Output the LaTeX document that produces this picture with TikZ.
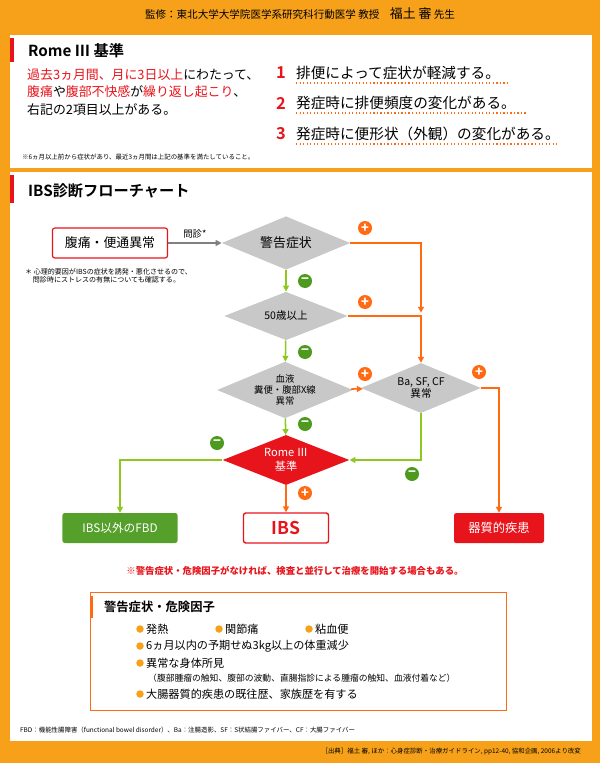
\documentclass[tikz,border=0pt]{standalone}
\usepackage{fontspec}
\setmainfont{Noto Sans CJK JP}
\newfontfamily\jpb{Noto Sans CJK JP}[BoldFont={* Bold}]
\usetikzlibrary{shapes.geometric,arrows.meta,positioning}
\definecolor{bgorange}{HTML}{F7A11A}
\definecolor{ibsred}{HTML}{E8141B}
\definecolor{lineorange}{HTML}{FF6A13}
\definecolor{linegreen}{HTML}{8CC81E}
\definecolor{signgreen}{HTML}{4E9A1E}
\definecolor{fbdgreen}{HTML}{55A02A}
\definecolor{dgray}{HTML}{C8C8C8}
\newcommand{\fs}[1]{\fontsize{#1}{#1}\selectfont}

\begin{document}
\begin{tikzpicture}[
		x=0.03cm, y=-0.03cm,
		decision/.style={diamond, aspect=2.4, fill=dgray, inner sep=0pt, font=\fs{9}, align=center},
		outbox/.style={rectangle, rounded corners=2pt, minimum height=0.9cm, font=\fs{11}},
		plus/.style={circle, fill=lineorange, text=white, inner sep=0pt, minimum size=0.42cm, font=\bfseries\fs{11}},
		minus/.style={circle, fill=signgreen, text=white, inner sep=0pt, minimum size=0.42cm, font=\bfseries\fs{11}},
		oarrow/.style={-{Triangle[length=5pt,width=5pt]}, lineorange, line width=1.3pt},
		garrow/.style={-{Triangle[length=5pt,width=5pt]}, linegreen, line width=1.3pt},
		item/.style={anchor=west, font=\fs{9.5}, inner sep=0pt},
		]
		% background and panels
		\fill[bgorange] (0,0) rectangle (600,763);
		\fill[white] (10,35) rectangle (592,168);
		\fill[white] (10,172) rectangle (592,741);
		\fill[ibsred] (10,38) rectangle (14,62);
		\fill[ibsred] (10,175) rectangle (14,203);
		\node[font=\fs{9}] (head) at (300,14) {監修：東北大学大学院医学系研究科行動医学 教授\quad{\fs{11}福土 審} 先生};
		
		% Rome III criteria
		\node[anchor=west, font=\jpb\bfseries\fs{13}] (rtitle) at (24,51) {Rome Ⅲ 基準};
		\node[anchor=north west, font=\fs{11}, align=left, inner sep=0pt] (rtext) at (27,68)
			{\textcolor{ibsred}{過去3ヵ月間、月に3日以上}にわたって、\\[4pt]
			 \textcolor{ibsred}{腹痛}や\textcolor{ibsred}{腹部不快感}が\textcolor{ibsred}{繰り返し起こり}、\\[4pt]
			 右記の2項目以上がある。};
		\foreach \n/\y/\t/\e in {1/73/排便によって症状が軽減する。/510, 2/103/発症時に排便頻度の変化がある。/527, 3/134/発症時に便形状（外観）の変化がある。/558}{
			\node[anchor=west, text=ibsred, font=\jpb\bfseries\fs{14}] (n\n) at (272,\y) {\n};
			\node[anchor=west, font=\fs{12.5}] (c\n) at (292,\y) {\t};
			\draw[lineorange, dotted, line width=1pt] (296,\y+10) -- (\e,\y+10);
		}
		\node[anchor=west, font=\fs{5.5}] (rnote) at (18,157) {※6ヵ月以上前から症状があり、最近3ヵ月間は上記の基準を満たしていること。};
		
		% flowchart
		\node[anchor=west, font=\jpb\bfseries\fs{13}] (ftitle) at (24,191) {IBS診断フローチャート};
		\node[outbox, draw=ibsred, line width=1pt, minimum width=3.45cm, font=\fs{11}] (start) at (110,243) {腹痛・便通異常};
		\node[anchor=north west, font=\fs{6}, align=left, inner sep=0pt] (snote) at (25,268) {＊ 心理的要因がIBSの症状を誘発・悪化させるので、\\[1pt]\hspace{1.1em}問診時にストレスの有無についても確認する。};
		\node[decision, minimum width=3.85cm, minimum height=1.6cm, font=\fs{11}] (warn) at (286,243) {警告症状};
		\node[decision, minimum width=3.7cm, minimum height=1.45cm] (age) at (286,316) {50歳以上};
		\node[decision, minimum width=3.6cm, minimum height=1.45cm, font=\fontsize{8}{9.5}\selectfont] (exam) at (285,390) {血液\\糞便・腹部X線\\異常};
		\node[decision, minimum width=3.6cm, minimum height=1.5cm, font=\fontsize{9}{11}\selectfont] (ba) at (421,388) {Ba, SF, CF\\異常};
		\node[decision, fill=ibsred, text=white, minimum width=3.8cm, minimum height=1.5cm, font=\fontsize{9.5}{11.5}\selectfont] (rome) at (286,460) {Rome Ⅲ\\基準};
		\node[outbox, fill=fbdgreen, text=white, minimum width=3.45cm, font=\fs{10}] (fbd) at (120,528) {IBS以外のFBD};
		\node[outbox, draw=ibsred, line width=1.2pt, minimum width=2.55cm, text=ibsred, font=\jpb\bfseries\fs{15}] (ibs) at (286,528) {IBS};
		\node[outbox, fill=ibsred, text=white, minimum width=2.7cm, font=\fs{10.5}] (organic) at (499,528) {器質的疾患};
		\coordinate (j1) at (421,316);
		
		\draw[-{Triangle[length=5pt,width=5pt]}, gray, line width=1.3pt] (start) -- node[above, text=black, font=\fs{8}] {問診*} (warn);
		\draw[oarrow] (warn.east) -| ([yshift=0.1cm]j1);
		\draw[oarrow] (age.east) -- (j1) -- (ba.north);
		\draw[oarrow] (exam) -- (ba);
		\draw[oarrow] (ba.east) -| (organic.north);
		\draw[oarrow] (rome) -- (ibs);
		\draw[garrow] (warn) -- (age);
		\draw[garrow] (age) -- (exam);
		\draw[garrow] (exam) -- (rome);
		\draw[garrow] (ba.south) |- (rome.east);
		\draw[garrow] (rome.west) -| (fbd.north);
		
		\node[plus] (p1) at (365,228) {+};
		\node[plus] (p2) at (365,302) {+};
		\node[plus] (p3) at (365,374) {+};
		\node[plus] (p4) at (479,372) {+};
		\node[plus] (p5) at (305,493) {+};
		\node[minus] (m1) at (305,281) {−};
		\node[minus] (m2) at (305,352) {−};
		\node[minus] (m3) at (305,424) {−};
		\node[minus] (m4) at (217,443) {−};
		\node[minus] (m5) at (412,474) {−};
		
		% warning factors
		\node[text=ibsred, font=\bfseries\fs{8}] (fnote) at (295,571) {※警告症状・危険因子がなければ、検査と並行して治療を開始する場合もある。};
		\draw[lineorange, line width=0.6pt] (90,592) rectangle (506,710);
		\fill[lineorange] (90,596) rectangle (93,618);
		\node[anchor=west, font=\jpb\bfseries\fs{10.5}] (wtitle) at (100,607) {警告症状・危険因子};
		\foreach \x/\y/\t in {140/629/発熱, 219/629/関節痛, 309/629/粘血便, 140/646/6ヵ月以内の予期せぬ3kg以上の体重減少, 140/663/異常な身体所見, 140/694/大腸器質的疾患の既往歴、家族歴を有する}{
			\fill[bgorange] (\x,\y) circle (3.2pt);
			\node[item] at (\x+6,\y) {\t};
		}
		\node[item, font=\fs{7.5}] (sub) at (148,678) {（腹部腫瘤の触知、腹部の波動、直腸指診による腫瘤の触知、血液付着など）};
		\node[anchor=west, font=\fs{5.5}] (abbr) at (16,730) {FBD：機能性腸障害（functional bowel disorder）、Ba：注腸造影、SF：S状結腸ファイバー、CF：大腸ファイバー};
		\node[anchor=east, font=\fs{5.5}] (src) at (585,752) {［出典］福土 審, ほか：心身症診断・治療ガイドライン, pp12-40, 協和企画, 2006より改変};
	\end{tikzpicture}
\end{document}
